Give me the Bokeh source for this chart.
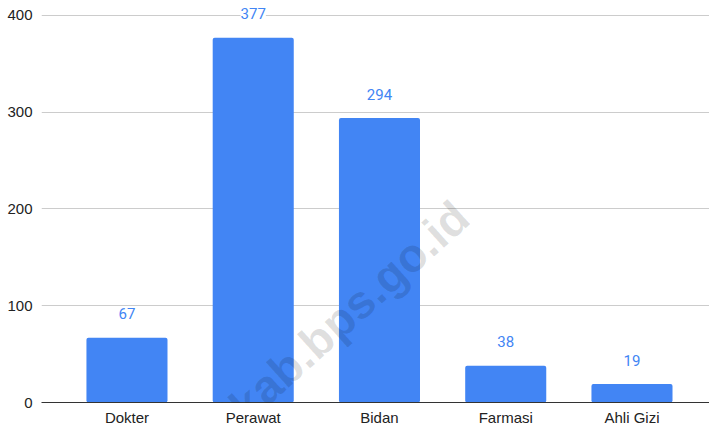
from bokeh.plotting import figure
from bokeh.models import ColumnDataSource, LabelSet, Label, FixedTicker, Range1d
from bokeh.core.properties import value
from bokeh.embed import file_html
from bokeh.resources import INLINE

categories = ["Dokter", "Perawat", "Bidan", "Farmasi", "Ahli Gizi"]
values = [67, 377, 294, 38, 19]
y_ticks = [0, 100, 200, 300, 400]
watermark = "lkab.bps.go.id"

xs = list(range(len(categories)))
src = ColumnDataSource(dict(x=xs, top=values, label=[str(v) for v in values]))

p = figure(frame_width=668, frame_height=402,
           x_range=Range1d(-0.677, 4.614), y_range=Range1d(0, 415.5),
           output_backend="svg", toolbar_location=None,
           min_border_left=41, min_border_right=0, min_border_top=0, min_border_bottom=26)
p.outline_line_color = None
p.background_fill_color = "white"
p.border_fill_color = "white"

p.vbar(x="x", top="top", width=0.642, bottom=0, source=src,
       fill_color="#4285F4", line_color=None, border_radius=2)

labels = LabelSet(x="x", y="top", text="label", source=src, y_offset=24,
                  text_align="center", text_baseline="middle",
                  text_font=value("Roboto"), text_font_size=value("15px"), text_color=value("#4285F4"),
                  background_fill_color="white")
p.add_layout(labels)

wm = Label(x=1.72, y=90, text=watermark, angle=42, angle_units="deg",
           text_align="center", text_baseline="middle",
           text_font="Liberation Sans", text_font_style="bold", text_font_size="47px",
           text_color="black", text_alpha=0.13)
p.add_layout(wm)

# y axis
p.yaxis.ticker = FixedTicker(ticks=y_ticks)
p.yaxis.axis_line_color = None
p.yaxis.major_tick_line_color = None
p.yaxis.minor_tick_line_color = None
p.yaxis.major_tick_out = 0
p.yaxis.major_tick_in = 0
p.yaxis.major_label_standoff = 9
p.yaxis.major_label_text_font = "Liberation Sans"
p.yaxis.major_label_text_font_size = "15px"
p.yaxis.major_label_text_color = "#222222"

# x axis
p.xaxis.ticker = FixedTicker(ticks=xs)
p.xaxis.major_label_overrides = {i: c for i, c in enumerate(categories)}
p.xaxis.axis_line_color = "#333333"
p.xaxis.axis_line_width = 1
p.xaxis.major_tick_line_color = None
p.xaxis.minor_tick_line_color = None
p.xaxis.major_tick_out = 0
p.xaxis.major_tick_in = 0
p.xaxis.major_label_standoff = 6
p.xaxis.major_label_text_font = "Liberation Sans"
p.xaxis.major_label_text_font_size = "15px"
p.xaxis.major_label_text_color = "#222222"

p.xgrid.grid_line_color = None
p.ygrid.grid_line_color = "#cccccc"
p.ygrid.ticker = FixedTicker(ticks=y_ticks[1:])

open("out.html", "w").write(file_html(p, INLINE))
